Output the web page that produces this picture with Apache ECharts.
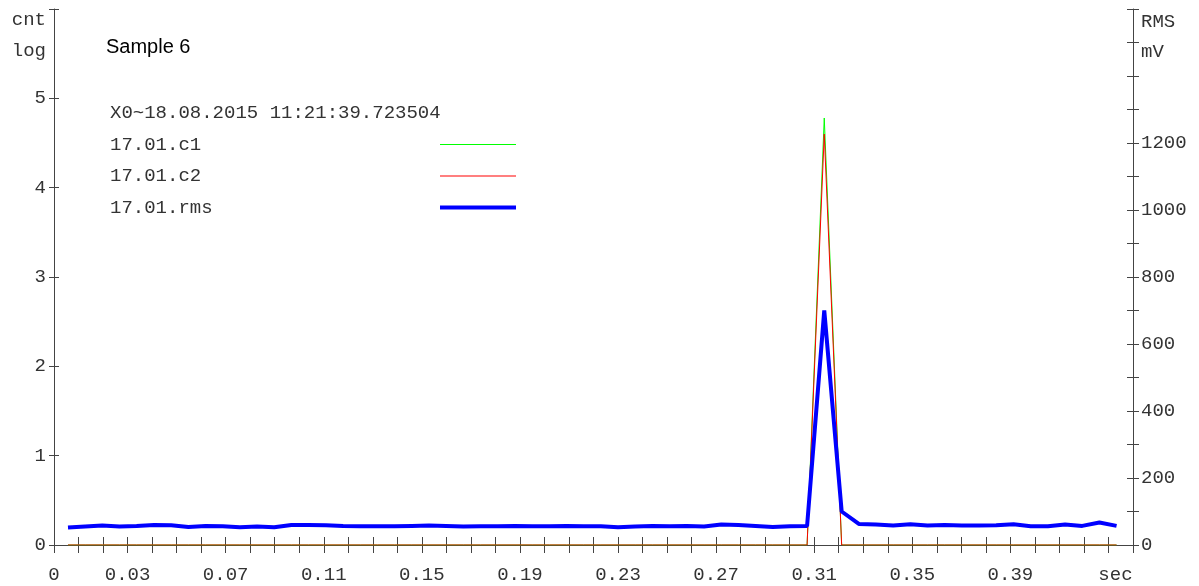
<!DOCTYPE html>
<html lang="en">
<head>
    <meta charset="UTF-8">
    <title>Sample 6</title>
    <script src="https://cdn.jsdelivr.net/npm/echarts@6/dist/echarts.min.js"></script>
    <style>
        html, body { margin: 0; padding: 0; background: #fff; }
        #main { width: 1199px; height: 586px; }
    </style>
</head>
<body>
    <div id="main"></div>
</body>
<script>

    // sample times (sec)
    var times = [0.0057, 0.0127, 0.0197, 0.0267, 0.0337, 0.0408, 0.0478, 0.0548, 0.0618, 0.0688,
        0.0758, 0.0828, 0.0898, 0.0968, 0.1038, 0.1109, 0.1179, 0.1249, 0.1319, 0.1389,
        0.1459, 0.1529, 0.1599, 0.1669, 0.1739, 0.1810, 0.1880, 0.1950, 0.2020, 0.2090,
        0.2160, 0.2230, 0.2300, 0.2370, 0.2440, 0.2511, 0.2581, 0.2651, 0.2721, 0.2791,
        0.2861, 0.2931, 0.3001, 0.3071, 0.3141, 0.3212, 0.3282, 0.3352, 0.3422, 0.3492,
        0.3562, 0.3632, 0.3702, 0.3772, 0.3842, 0.3913, 0.3983, 0.4053, 0.4123, 0.4193,
        0.4263, 0.4333];

    // cnt (log)
    var c1 = [0, 0, 0, 0, 0, 0, 0, 0, 0, 0,
        0, 0, 0, 0, 0, 0, 0, 0, 0, 0,
        0, 0, 0, 0, 0, 0, 0, 0, 0, 0,
        0, 0, 0, 0, 0, 0, 0, 0, 0, 0,
        0, 0, 0, 0, 4.78, 0, 0, 0, 0, 0,
        0, 0, 0, 0, 0, 0, 0, 0, 0, 0,
        0, 0];
    var c2 = [0, 0, 0, 0, 0, 0, 0, 0, 0, 0,
        0, 0, 0, 0, 0, 0, 0, 0, 0, 0,
        0, 0, 0, 0, 0, 0, 0, 0, 0, 0,
        0, 0, 0, 0, 0, 0, 0, 0, 0, 0,
        0, 0, 0, 0, 4.60, 0, 0, 0, 0, 0,
        0, 0, 0, 0, 0, 0, 0, 0, 0, 0,
        0, 0];

    // RMS mV
    var rms = [52, 55, 58, 55, 57, 60, 59, 54, 57, 56,
        53, 55, 53, 60, 60, 59, 57, 56, 56, 56,
        57, 58, 57, 55, 56, 56, 57, 56, 56, 57,
        56, 56, 53, 55, 57, 56, 57, 55, 61, 60,
        57, 54, 56, 57, 700, 100, 63, 61, 58, 62,
        58, 60, 58, 58, 59, 62, 56, 56, 61, 57,
        67, 57];

    var xLabels = [0, 0.03, 0.07, 0.11, 0.15, 0.19, 0.23, 0.27, 0.31, 0.35, 0.39];
    var leftLabels = [0, 1, 2, 3, 4, 5];
    var rightLabels = [0, 200, 400, 600, 800, 1000, 1200];

    var header = 'X0~18.08.2015 11:21:39.723504';
    var names = ['17.01.c1', '17.01.c2', '17.01.rms'];
    var colors = ['#00ff00', '#ff0000', '#0000ff'];

    function pairs(ys) {
        return ys.map(function (y, i) { return [times[i], y]; });
    }

    var mono = 'Liberation Mono';
    var txt = '#333';
    var axisCol = '#444';

    var chart = echarts.init(document.getElementById('main'));
    chart.setOption({
        animation: false,
        title: [{
            text: 'Sample 6',
            left: 106,
            top: 37,
            padding: 0,
            textStyle: { fontFamily: 'Liberation Sans', fontSize: 20, fontWeight: 'normal', color: '#000' }
        }, {
            text: header,
            left: 110,
            top: 103,
            padding: 0,
            textStyle: { fontFamily: mono, fontSize: 19, fontWeight: 'normal', color: txt, lineHeight: 19 }
        }],
        legend: {
            orient: 'vertical',
            left: 110,
            top: 135,
            padding: 0,
            align: 'right',
            itemWidth: 76,
            itemHeight: 4,
            itemGap: 12.5,
            selectedMode: false,
            itemStyle: { borderWidth: 0 },
            data: [
                { name: names[0], icon: 'path://M0,0H76V1H0Z', itemStyle: { color: colors[0], borderWidth: 0 } },
                { name: names[1], icon: 'path://M0,0H76V1H0Z', itemStyle: { color: colors[1], borderWidth: 0 } },
                { name: names[2], icon: 'path://M0,0H76V4H0Z', itemStyle: { color: colors[2], borderWidth: 0 } }
            ],
            formatter: function (n) { return '{a|' + n + '}'; },
            textStyle: {
                fontFamily: mono, fontSize: 19, color: txt, lineHeight: 19,
                rich: { a: { width: 325, align: 'left', fontFamily: mono, fontSize: 19, color: txt } }
            }
        },
        grid: { left: 54, right: 66, top: 9, bottom: 41 },
        xAxis: [{
            type: 'value',
            min: 0,
            max: 0.44,
            interval: 0.01,
            position: 'bottom',
            splitLine: { show: false },
            axisLine: { lineStyle: { color: axisCol, width: 1 } },
            axisTick: { length: 8, lineStyle: { color: axisCol } },
            axisLabel: {
                margin: 20,
                fontFamily: mono,
                fontSize: 19,
                color: txt,
                formatter: function (v) {
                    var r = Math.round(v * 100) / 100;
                    if (r === 0.43) return '{s|sec}';
                    return xLabels.indexOf(r) >= 0 ? String(r) : '';
                },
                rich: { s: { fontFamily: mono, fontSize: 19, color: txt, padding: [0, 0, 0, 14] } }
            }
        }, {
            type: 'value',
            min: 0,
            max: 0.44,
            interval: 0.01,
            position: 'bottom',
            offset: 0,
            splitLine: { show: false },
            axisLine: { show: false },
            axisTick: { inside: true, length: 8, lineStyle: { color: axisCol } },
            axisLabel: { show: false }
        }],
        yAxis: [{
            type: 'value',
            min: 0,
            max: 6,
            interval: 1,
            position: 'left',
            name: 'cnt\nlog',
            nameLocation: 'end',
            nameGap: 5,
            nameTextStyle: {
                fontFamily: mono, fontSize: 19, color: txt, lineHeight: 31,
                align: 'right', verticalAlign: 'top', padding: [0, 8, 0, 0]
            },
            splitLine: { show: false },
            axisLine: { show: true, lineStyle: { color: axisCol, width: 1 } },
            axisTick: { show: true, length: 5, lineStyle: { color: axisCol } },
            axisLabel: {
                margin: 8,
                fontFamily: mono,
                fontSize: 19,
                color: txt,
                formatter: function (v) { return leftLabels.indexOf(v) >= 0 ? String(v) : ''; }
            }
        }, {
            type: 'value',
            min: 0,
            max: 6,
            interval: 1,
            position: 'left',
            offset: 0,
            splitLine: { show: false },
            axisLine: { show: false },
            axisTick: { show: true, inside: true, length: 5, lineStyle: { color: axisCol } },
            axisLabel: { show: false }
        }, {
            type: 'value',
            min: 0,
            max: 1600,
            interval: 100,
            position: 'right',
            name: 'RMS\nmV',
            nameLocation: 'end',
            nameGap: 2,
            nameTextStyle: {
                fontFamily: mono, fontSize: 19, color: txt, lineHeight: 30,
                align: 'left', verticalAlign: 'top', padding: [0, 0, 0, 8]
            },
            splitLine: { show: false },
            axisLine: { show: true, lineStyle: { color: axisCol, width: 1 } },
            axisTick: { show: true, length: 6, lineStyle: { color: axisCol } },
            axisLabel: {
                margin: 8,
                fontFamily: mono,
                fontSize: 19,
                color: txt,
                formatter: function (v) { return rightLabels.indexOf(v) >= 0 ? String(v) : ''; }
            }
        }, {
            type: 'value',
            min: 0,
            max: 1600,
            interval: 100,
            position: 'right',
            offset: 0,
            splitLine: { show: false },
            axisLine: { show: false },
            axisTick: { show: true, inside: true, length: 6, lineStyle: { color: axisCol } },
            axisLabel: { show: false }
        }],
        series: [{
            name: names[0],
            type: 'line',
            xAxisIndex: 0,
            yAxisIndex: 0,
            symbol: 'none',
            color: colors[0],
            lineStyle: { width: 1, color: colors[0] },
            data: pairs(c1)
        }, {
            name: names[1],
            type: 'line',
            xAxisIndex: 0,
            yAxisIndex: 0,
            symbol: 'none',
            color: colors[1],
            lineStyle: { width: 1, color: colors[1] },
            data: pairs(c2)
        }, {
            name: names[2],
            type: 'line',
            xAxisIndex: 0,
            yAxisIndex: 2,
            symbol: 'none',
            color: colors[2],
            lineStyle: { width: 4, color: colors[2] },
            data: pairs(rms)
        }]
    });

</script>
</html>
